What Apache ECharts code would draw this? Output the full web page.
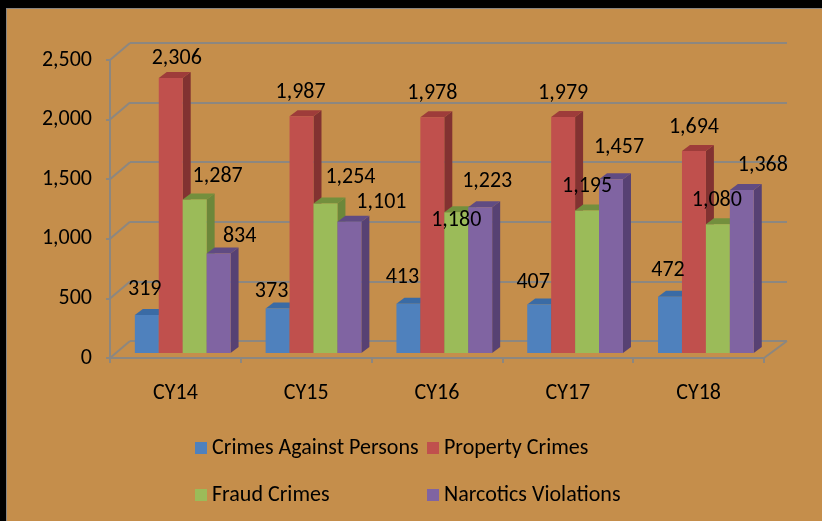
<!DOCTYPE html>
<html>
<head>
<meta charset="utf-8">
<script src="https://cdn.jsdelivr.net/npm/echarts@6/dist/echarts.min.js"></script>
<style>
  html, body { margin: 0; padding: 0; background: #000; }
  #chart { width: 822px; height: 521px; }
</style>
</head>
<body>
<div id="chart"></div>
<script>
// ---- data ----
const categories = ['CY14', 'CY15', 'CY16', 'CY17', 'CY18'];
const seriesNames = ['Crimes Against Persons', 'Property Crimes', 'Fraud Crimes', 'Narcotics Violations'];
const personsData = [319, 373, 413, 407, 472];
const propertyData = [2306, 1987, 1978, 1979, 1694];
const fraudData = [1287, 1254, 1180, 1195, 1080];
const narcoticsData = [834, 1101, 1223, 1457, 1368];
const yTicks = [0, 500, 1000, 1500, 2000, 2500];

// ---- styles ----
const FONT = 'Carlito, Lato, "Liberation Sans", sans-serif';
const FS = 22;
const BG = '#C58E4B';
const LINE = '#8C8780';
const faceColors = [
  { front: '#4F81BD', side: '#385D8A', top: '#3A6BA5' },
  { front: '#C0504D', side: '#823231', top: '#9E3C3A' },
  { front: '#9BBB59', side: '#6C873A', top: '#738F3D' },
  { front: '#8064A2', side: '#574173', top: '#604B82' }
];
// label offsets (px) relative to top-front centre of each bar (mimic original placement)
const labelOffsets = [
  [[-2, -25], [-6, -17], [-6, -26], [-6, -22], [-2, -26]],
  [[6, -20], [-1, -24], [0, -24], [0, -24], [0, -24]],
  [[23, -23], [25, -26], [0, 8], [0, -24], [-1, -24]],
  [[21, -17], [32, -19], [7, -26], [8, -32], [21, -24]]
];
const PLANE_DX = 7.3, PLANE_DY = -5;   // bar plane offset from front plane
const DEPTH_DX = 8, DEPTH_DY = -6;     // bar depth
const WALL_DX = 20, WALL_DY = -17;     // back wall offset
const BAR_FRAC = 0.183;

const allData = [personsData, propertyData, fraudData, narcoticsData];

function barRenderer(s) {
  return function (params, api) {
    const c = api.value(0), v = api.value(1);
    const top = api.coord([c, v]);
    const base = api.coord([c, 0]);
    const band = api.size([1, 0])[0];
    const bw = band * BAR_FRAC;
    const cx = top[0] + PLANE_DX + (s - 1.5) * bw;
    const x0 = cx - bw / 2, x1 = cx + bw / 2;
    const yT = top[1] + PLANE_DY, yB = base[1] + PLANE_DY;
    const col = faceColors[s];
    const off = labelOffsets[s][params.dataIndex];
    return {
      type: 'group',
      children: [
        { type: 'polygon', shape: { points: [[x1, yT], [x1 + DEPTH_DX, yT + DEPTH_DY], [x1 + DEPTH_DX, yB + DEPTH_DY], [x1, yB]] }, style: { fill: col.side } },
        { type: 'polygon', shape: { points: [[x0, yT], [x0 + DEPTH_DX, yT + DEPTH_DY], [x1 + DEPTH_DX, yT + DEPTH_DY], [x1, yT]] }, style: { fill: col.top } },
        { type: 'rect', shape: { x: x0, y: yT, width: bw, height: yB - yT }, style: { fill: col.front } },
        { type: 'text', z2: 100, style: { text: v.toLocaleString('en-US'), x: cx + off[0], y: yT + off[1], align: 'center', verticalAlign: 'middle', fill: '#000', fontSize: FS, fontFamily: FONT } }
      ]
    };
  };
}

function wallRenderer(params, api) {
  const v = api.value(0);
  const p = api.coord([0, v]);
  const x = params.coordSys.x;
  const children = [
    { type: 'line', shape: { x1: x, y1: p[1], x2: x + WALL_DX, y2: p[1] + WALL_DY }, style: { stroke: LINE, lineWidth: 2 } }
  ];
  if (v === 0) {
    const xr = params.coordSys.x + params.coordSys.width;
    children.push({ type: 'line', shape: { x1: xr, y1: p[1], x2: xr + WALL_DX + 3, y2: p[1] + WALL_DY }, style: { stroke: LINE, lineWidth: 2 } });
  }
  return { type: 'group', children: children };
}

const series = [
  {
    type: 'custom', name: 'wall', xAxisIndex: 0, yAxisIndex: 0, silent: true, z: 1,
    renderItem: wallRenderer,
    data: yTicks.map(t => [t]),
    encode: { y: 0 }
  }
];
seriesNames.forEach((name, s) => {
  series.push({
    type: 'custom', name: name, xAxisIndex: 0, yAxisIndex: 0, z: 3,
    itemStyle: { color: faceColors[s].front },
    renderItem: barRenderer(s),
    data: allData[s].map((v, i) => [i, v]),
    encode: { x: 0, y: 1 }
  });
});

const legendText = { color: '#000', fontSize: FS, lineHeight: 22, fontFamily: FONT, padding: [2, 0, 0, 0] };

const chart = echarts.init(document.getElementById('chart'));
chart.setOption({
  backgroundColor: BG,
  animation: false,
  textStyle: { fontFamily: FONT },
  grid: [
    { left: 110, top: 60, width: 654, height: 298 },
    { left: 130, top: 43, width: 657, height: 298 }
  ],
  xAxis: [
    {
      gridIndex: 0, type: 'category', data: categories, boundaryGap: true,
      axisLine: { lineStyle: { color: LINE, width: 2 } },
      axisTick: { show: true, length: 5, lineStyle: { color: LINE, width: 2 } },
      axisLabel: { color: '#000', fontSize: FS, fontFamily: FONT, margin: 24 }
    },
    { gridIndex: 1, type: 'category', data: categories, show: false }
  ],
  yAxis: [
    {
      gridIndex: 0, type: 'value', min: 0, max: 2500, interval: 500,
      axisLine: { show: true, lineStyle: { color: LINE, width: 2 } },
      axisTick: { show: true, length: 4, lineStyle: { color: LINE, width: 2 } },
      splitLine: { show: false },
      axisLabel: {
        color: '#000', fontSize: FS, fontFamily: FONT, margin: 18, padding: [5, 0, 0, 0],
        formatter: v => v.toLocaleString('en-US')
      }
    },
    {
      gridIndex: 1, type: 'value', min: 0, max: 2500, interval: 500,
      axisLine: { show: false }, axisTick: { show: false }, axisLabel: { show: false },
      splitLine: { show: true, lineStyle: { color: LINE, width: 2 } }
    }
  ],
  legend: [
    {
      orient: 'vertical', left: 195, top: 436, padding: 0, itemWidth: 12, itemHeight: 12, itemGap: 23,
      icon: 'rect', data: [seriesNames[0], seriesNames[2]], textStyle: legendText
    },
    {
      orient: 'vertical', left: 427, top: 436, padding: 0, itemWidth: 12, itemHeight: 12, itemGap: 23,
      icon: 'rect', data: [seriesNames[1], seriesNames[3]], textStyle: legendText
    }
  ],
  graphic: [
    { type: 'rect', left: 0, top: 0, shape: { width: 822, height: 8 }, style: { fill: '#000' }, z: 100 },
    { type: 'rect', left: 0, top: 0, shape: { width: 6, height: 521 }, style: { fill: '#000' }, z: 100 },
    { type: 'line', shape: { x1: 6, y1: 8.5, x2: 822, y2: 8.5 }, style: { stroke: '#8a8580', lineWidth: 1 }, z: 100 },
    { type: 'line', shape: { x1: 6.5, y1: 8, x2: 6.5, y2: 521 }, style: { stroke: '#8a8580', lineWidth: 1 }, z: 100 }
  ],
  series: series
});
</script>
</body>
</html>
